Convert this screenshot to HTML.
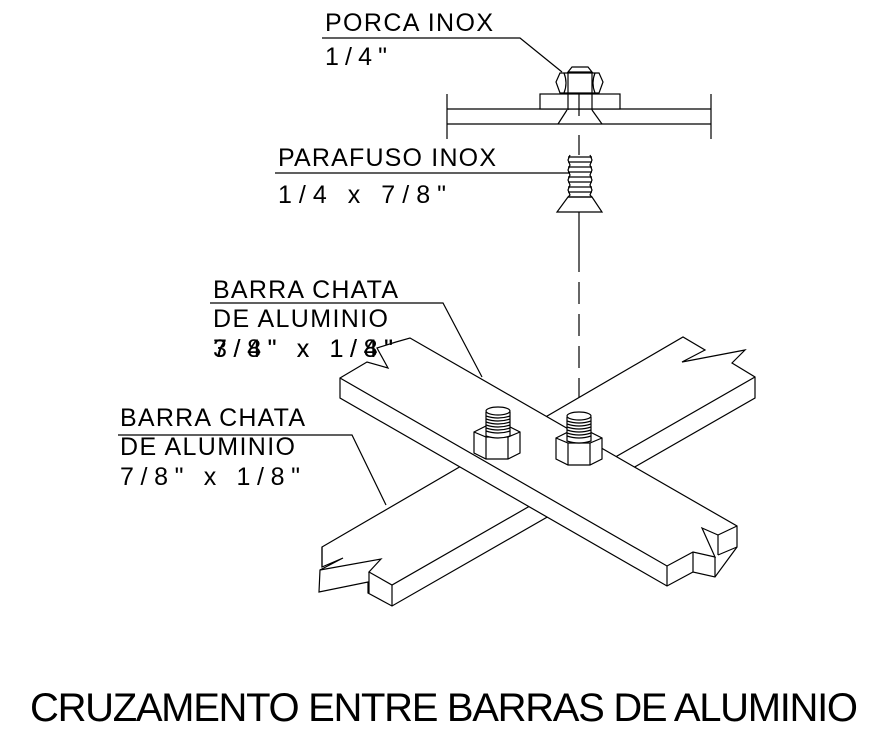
<!DOCTYPE html>
<html><head><meta charset="utf-8"><style>
html,body{margin:0;padding:0;background:#fff;}
svg{display:block;}
text{font-family:"Liberation Sans",sans-serif;fill:#000;}
</style></head><body>
<svg width="870" height="731" viewBox="0 0 870 731" xmlns="http://www.w3.org/2000/svg">
<g stroke="#000" stroke-width="1.2" fill="none">
<line x1="447" y1="109" x2="711" y2="109"/>
<line x1="447" y1="124" x2="711" y2="124"/>
<line x1="447" y1="94" x2="447" y2="139"/>
<line x1="711" y1="94" x2="711" y2="139"/>
<rect x="540" y="94" width="80" height="15" fill="#fff"/>
<polygon points="556,82 560,73 568,73 592,73 599,73 603,82 599,93 560,93" fill="#fff"/>
<line x1="568" y1="73" x2="568" y2="93"/><line x1="592" y1="73" x2="592" y2="93"/>
<path d="M564,73 Q568,83 564,93 M595,73 Q591,83 595,93"/>
<polygon points="568,72 572,67 588,67 592,72"/>
<line x1="568" y1="93" x2="568" y2="110"/><line x1="592" y1="93" x2="592" y2="110"/>
<line x1="579" y1="93" x2="579" y2="116"/>
<line x1="558" y1="124" x2="567" y2="110"/><line x1="602" y1="124" x2="592" y2="110"/>
<line x1="579" y1="135" x2="579" y2="155"/>
<g>
<line x1="568" y1="157" x2="592" y2="157"/><line x1="568" y1="162" x2="592" y2="162"/>
<line x1="568" y1="167" x2="592" y2="167"/><line x1="568" y1="172" x2="592" y2="172"/>
<line x1="568" y1="177" x2="592" y2="177"/><line x1="568" y1="182" x2="592" y2="182"/>
<line x1="568" y1="187" x2="592" y2="187"/><line x1="568" y1="192" x2="592" y2="192"/>
<line x1="568" y1="197" x2="592" y2="197"/>
<path d="M570,155 L568,160 L570,165 L568,170 L570,175 L568,180 L570,185 L568,190 L570,195 L568,197"/>
<path d="M590,155 L592,160 L590,165 L592,170 L590,175 L592,180 L590,185 L592,190 L590,195 L592,197"/>
</g>
<polygon points="568,197 592,197 602,212 557,212"/>
<line x1="579" y1="212" x2="579" y2="250"/>
<line x1="579" y1="250" x2="579" y2="410" stroke-dasharray="22,10"/>
<polyline points="322,38 520,38 562,72"/>
<polyline points="275,173 570,173"/>
<polyline points="210,303 443,303 482,377"/>
<polyline points="118,435 352,435 386,505"/>
<polygon points="322,547 683,337 705,350 682,362 745,350 732,363 755,377 755,398 392,606 368,593 368,582 319,592 320,570 343,558 322,567" fill="#fff"/>
<polyline points="322,547 322,567"/>
<polyline points="320,570 381,559 369,572 392,585 755,377"/>
<line x1="369" y1="572" x2="369" y2="593"/>
<line x1="392" y1="585" x2="392" y2="606"/>
<polygon points="340,378 367,362 388,368 377,348 396,342 410,338 737,526 737,547 715,577 693,572 667,586 340,398" fill="#fff"/>
<polyline points="340,378 667,566 693,552 715,557 702,528 718,535 737,526"/>
<line x1="667" y1="566" x2="667" y2="586"/>
<line x1="693" y1="552" x2="693" y2="572"/>
<line x1="715" y1="557" x2="715" y2="577"/>
<line x1="718" y1="535" x2="718" y2="555"/>
<line x1="718" y1="555" x2="737" y2="547"/>
<g fill="#fff">
<polygon points="474,432 486,426 508,426 520,432 520,453 508,459 486,459 474,453"/>
<polyline points="474,432 486,437 508,437 520,432"/>
<line x1="486" y1="437" x2="486" y2="459"/><line x1="508" y1="437" x2="508" y2="459"/>
<path d="M486,412 L486,436 Q498,440 510,436 L510,412" />
<ellipse cx="498" cy="411" rx="12" ry="4"/>
<path d="M486,416 Q498,420 510,416 M486,419 Q498,423 510,419 M486,422 Q498,426 510,422 M486,425 Q498,429 510,425 M486,428 Q498,432 510,428 M486,431 Q498,435 510,431" fill="none"/>
<polygon points="556,438 568,432 590,432 602,438 602,459 590,465 568,465 556,459"/>
<polyline points="556,438 568,443 590,443 602,438"/>
<line x1="568" y1="443" x2="568" y2="465"/><line x1="590" y1="443" x2="590" y2="465"/>
<path d="M567,417 L567,441 Q579,445 591,441 L591,417"/>
<ellipse cx="579" cy="416" rx="12" ry="4"/>
<path d="M567,421 Q579,425 591,421 M567,424 Q579,428 591,424 M567,427 Q579,431 591,427 M567,430 Q579,434 591,430 M567,433 Q579,437 591,433 M567,436 Q579,440 591,436" fill="none"/>
</g>
</g>
<g font-size="25">
<text x="325" y="31" textLength="168" lengthAdjust="spacing">PORCA INOX</text>
<text x="325" y="65" textLength="62" lengthAdjust="spacing">1/4"</text>
<text x="278" y="166" textLength="218" lengthAdjust="spacing">PARAFUSO INOX</text>
<text x="278" y="203" textLength="168" lengthAdjust="spacing">1/4 x 7/8"</text>
<text x="213" y="298" textLength="185" lengthAdjust="spacing">BARRA CHATA</text>
<text x="213" y="327" textLength="175" lengthAdjust="spacing">DE ALUMINIO</text>
<text x="213" y="357" textLength="180" lengthAdjust="spacing">3/8" x 1/8"</text>
<text x="213" y="357" textLength="180" lengthAdjust="spacing">7/4" x 1/4"</text>
<text x="120" y="426" textLength="185" lengthAdjust="spacing">BARRA CHATA</text>
<text x="120" y="455" textLength="175" lengthAdjust="spacing">DE ALUMINIO</text>
<text x="120" y="485" textLength="180" lengthAdjust="spacing">7/8" x 1/8"</text>
</g>
<text x="30" y="721" font-size="40" textLength="828" lengthAdjust="spacing">CRUZAMENTO ENTRE BARRAS DE ALUMINIO</text>
</svg>
</body></html>
